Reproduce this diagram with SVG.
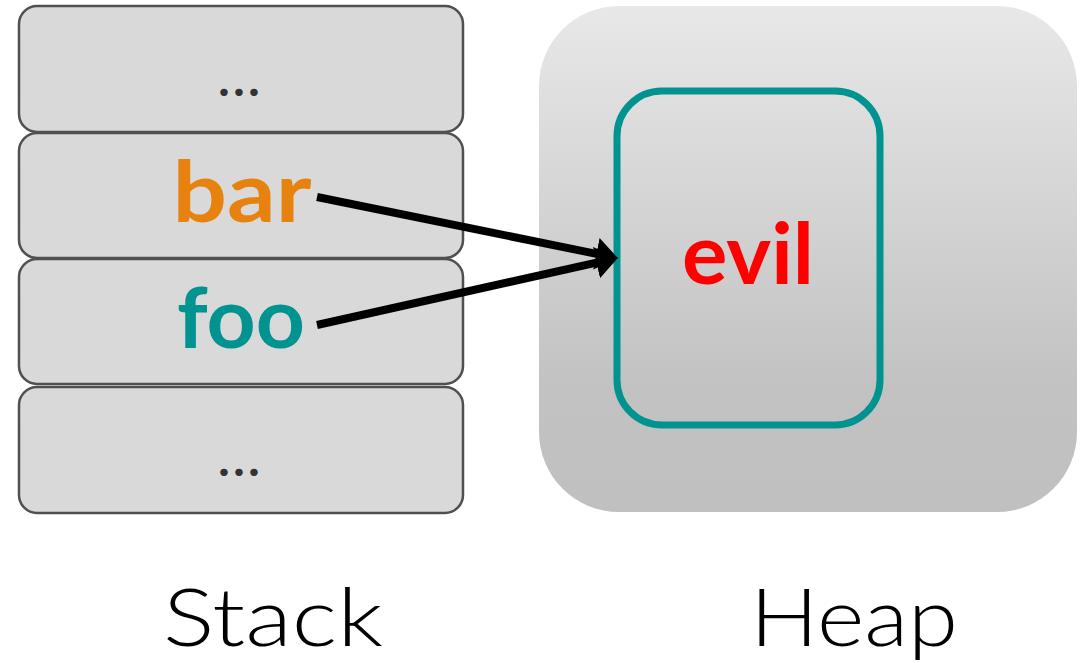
<svg xmlns="http://www.w3.org/2000/svg" width="1082" height="663" viewBox="0 0 1082 663">
  <style>
    .frame { fill: #d9d9d9; stroke: #505050; stroke-width: 2.5; }
    .dots { font-family: Lato, "Liberation Sans", sans-serif; font-weight: 900; font-size: 46px; fill: #333333; text-anchor: middle; }
    .var { font-family: Lato, "Liberation Sans", sans-serif; font-weight: 700; font-size: 84px; text-anchor: middle; }
    .title { font-family: Lato, "Liberation Sans", sans-serif; font-weight: 300; font-size: 80px; fill: #000000; text-anchor: middle; }
    .ref { fill: none; stroke: #000000; stroke-width: 8; marker-end: url(#head); }
  </style>
  <defs>
    <linearGradient id="heapFill" x1="0" y1="0" x2="0" y2="1">
      <stop offset="0" stop-color="#e8e8e8"/>
      <stop offset="0.75" stop-color="#c2c2c2"/>
      <stop offset="1" stop-color="#c0c0c0"/>
    </linearGradient>
    <marker id="head" markerUnits="userSpaceOnUse" viewBox="0 -16 22 32" refX="0" refY="0" markerWidth="22" markerHeight="32" orient="auto">
      <path d="M0,-16 L22,0 L0,16 Z" fill="#000000"/>
    </marker>
  </defs>

  <rect width="1082" height="663" fill="#ffffff"/>

  <!-- heap region -->
  <g id="heap">
    <rect x="539" y="6" width="538" height="506" rx="80" ry="80" fill="url(#heapFill)"/>
  </g>

  <!-- stack frames, top to bottom -->
  <g id="frame-top">
    <rect class="frame" x="19" y="6" width="444" height="126" rx="18" ry="18"/>
    <text class="dots" x="224 239 254" y="96">...</text>
  </g>
  <g id="frame-bar">
    <rect class="frame" x="19" y="133" width="444" height="125" rx="18" ry="18"/>
    <text class="var" x="242" y="222" fill="#e8820e" textLength="139" lengthAdjust="spacingAndGlyphs">bar</text>
  </g>
  <g id="frame-foo">
    <rect class="frame" x="19" y="259" width="444" height="125" rx="18" ry="18"/>
    <text class="var" x="241" y="348" fill="#00938f" textLength="128" lengthAdjust="spacingAndGlyphs">foo</text>
  </g>
  <g id="frame-bottom">
    <rect class="frame" x="19" y="387" width="444" height="126" rx="18" ry="18"/>
    <text class="dots" x="224 239 254" y="476">...</text>
  </g>

  <!-- object on the heap -->
  <g id="evil">
    <rect x="617" y="91" width="263" height="334" rx="45" ry="45" fill="none" stroke="#00938f" stroke-width="7"/>
    <text class="var" x="748" y="284" fill="#ff0000" textLength="132" lengthAdjust="spacingAndGlyphs">evil</text>
  </g>

  <!-- references from stack variables to the heap object -->
  <g id="connectors">
    <line class="ref" x1="317" y1="197" x2="596.4" y2="253.8"/>
    <line class="ref" x1="317" y1="325" x2="596.5" y2="262.6"/>
  </g>

  <!-- captions -->
  <g id="labels">
    <text class="title" x="273" y="646" textLength="220" lengthAdjust="spacingAndGlyphs">Stack</text>
    <text class="title" x="854" y="646" textLength="208" lengthAdjust="spacingAndGlyphs">Heap</text>
  </g>
</svg>
